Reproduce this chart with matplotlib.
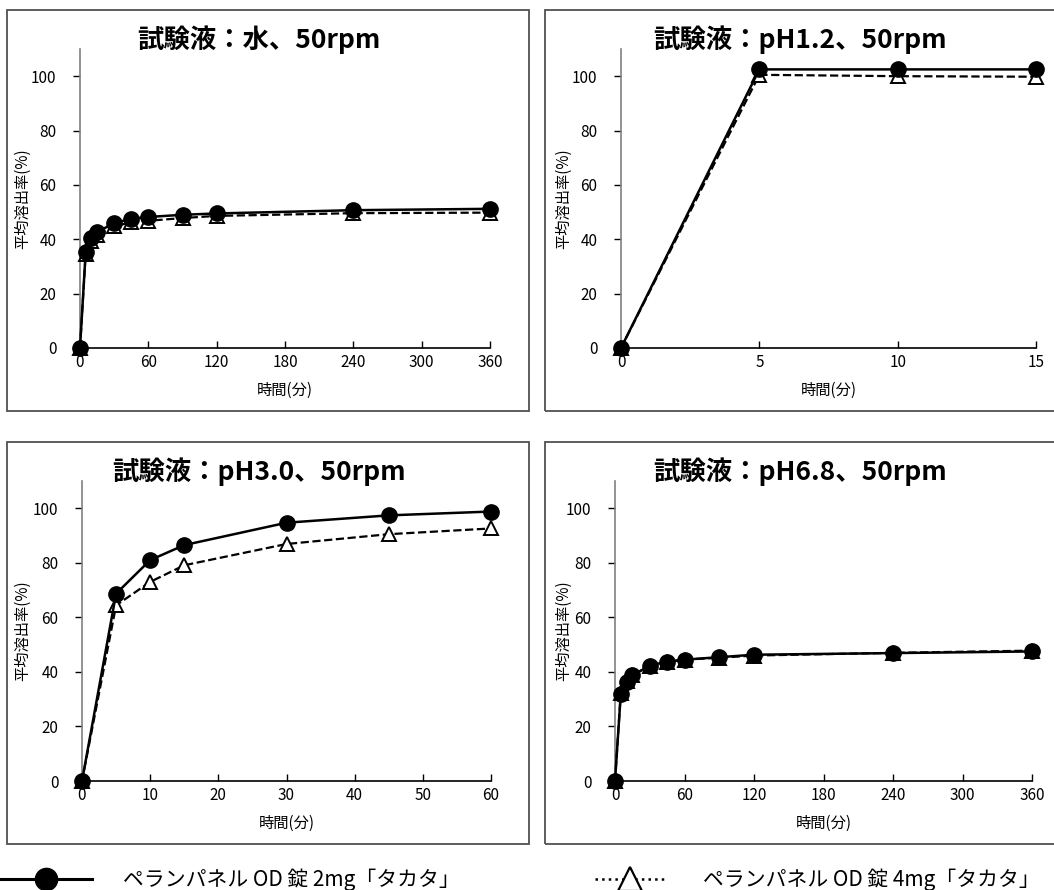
import matplotlib
matplotlib.use("Agg")
import matplotlib.pyplot as plt
from matplotlib.patches import Rectangle
from matplotlib.lines import Line2D

plt.rcParams['font.family'] = ['Noto Sans CJK JP', 'DejaVu Sans']

# ---- data ----
t_long = [0, 5, 10, 15, 30, 45, 60, 90, 120, 240, 360]
t_ph12 = [0, 5, 10, 15]
t_ph30 = [0, 5, 10, 15, 30, 45, 60]

water_2mg = [0, 35.5, 40.5, 42.7, 45.9, 47.6, 48.2, 49.0, 49.5, 50.7, 51.2]
water_4mg = [0, 34.5, 39.5, 41.5, 44.8, 46.2, 46.8, 47.8, 48.6, 49.6, 49.8]
ph12_2mg = [0, 102.5, 102.5, 102.5]
ph12_4mg = [0, 100.5, 100.0, 99.8]
ph30_2mg = [0, 68.7, 81.0, 86.5, 94.7, 97.4, 98.8]
ph30_4mg = [0, 64.4, 73.0, 79.1, 86.9, 90.5, 92.6]
ph68_2mg = [0, 31.9, 36.2, 38.7, 42.3, 43.8, 44.5, 45.4, 46.3, 46.9, 47.5]
ph68_4mg = [0, 32.2, 36.6, 39.0, 42.0, 43.5, 44.5, 45.2, 46.0, 47.0, 47.8]

titles = ['試験液：水、50rpm', '試験液：pH1.2、50rpm', '試験液：pH3.0、50rpm', '試験液：pH6.8、50rpm']
legend_2mg = 'ペランパネル OD 錠 2mg「タカタ」'
legend_4mg = 'ペランパネル OD 錠 4mg「タカタ」'

W, H = 1054, 890
fig = plt.figure(figsize=(W / 100, H / 100), dpi=100)

def fbox(x0, y0, x1, y1):
    # pixel box -> figure fraction [left, bottom, width, height]
    return [x0 / W, 1 - y1 / H, (x1 - x0) / W, (y1 - y0) / H]

# panel frames
frames = [(7, 10, 529, 411), (545, 10, 1062, 411), (7, 442, 529, 844), (545, 442, 1062, 844)]
for x0, y0, x1, y1 in frames:
    fig.patches.append(Rectangle((x0 / W, 1 - y1 / H), (x1 - x0) / W, (y1 - y0) / H,
                                 transform=fig.transFigure, fill=False,
                                 edgecolor='#505050', linewidth=1.3))

# axes pixel boxes, title centre (px), y-label right edge (px)
panels = [
    ((80, 49, 490, 348), t_long, water_2mg, water_4mg, 360, range(0, 361, 60), 259, 40, 31),
    ((621, 49, 1036, 348), t_ph12, ph12_2mg, ph12_4mg, 15, range(0, 16, 5), 800, 40, 572),
    ((82, 481, 491, 781), t_ph30, ph30_2mg, ph30_4mg, 60, range(0, 61, 10), 259, 472, 31),
    ((615, 481, 1032, 781), t_long, ph68_2mg, ph68_4mg, 360, range(0, 361, 60), 800, 472, 572),
]

for i, (px, t, y2, y4, xmax, xt, tx, ty, lx) in enumerate(panels):
    ax = fig.add_axes(fbox(*px))
    ax.plot(t, y4, color='black', linestyle='--', linewidth=1.6, marker='^',
            markersize=10, markerfacecolor='white', markeredgecolor='black',
            markeredgewidth=1.4, clip_on=False, zorder=3)
    ax.plot(t, y2, color='black', linestyle='-', linewidth=1.8, marker='o',
            markersize=11, markerfacecolor='black', markeredgecolor='black',
            clip_on=False, zorder=4)
    ax.set_xlim(0, xmax)
    ax.set_ylim(0, 110)
    ax.set_xticks(list(xt))
    ax.set_yticks(range(0, 101, 20))
    ax.spines['top'].set_visible(False)
    ax.spines['right'].set_visible(False)
    ax.spines['left'].set_color('#808080')
    ax.spines['left'].set_linewidth(1.2)
    ax.spines['bottom'].set_linewidth(1.2)
    ax.tick_params(axis='y', direction='out', length=5, width=1, labelsize=11, pad=12)
    ax.tick_params(axis='x', direction='in', length=5, width=1, labelsize=11, pad=4)
    ax.set_xlabel('時間(分)', fontsize=11, labelpad=8)
    ax.set_ylabel('平均溶出率(%)', fontsize=11)
    ax.yaxis.set_label_coords((lx - px[0]) / (px[2] - px[0]), 0.5)
    fig.text(tx / W, 1 - ty / H, titles[i], fontsize=19, fontweight='bold',
             ha='center', va='center')

# legend strip at the bottom
h2 = Line2D([], [], color='black', linestyle='-', linewidth=2.2, marker='o',
            markersize=16, markerfacecolor='black')
h4 = Line2D([], [], color='black', linestyle=':', linewidth=1.8, marker='^',
            markersize=17, markerfacecolor='white', markeredgewidth=1.6)
fig.legend(handles=[h2], labels=[legend_2mg], loc='center left',
           bbox_to_anchor=(0 / W, 1 - 880 / H), frameon=False, borderpad=0,
           borderaxespad=0, handlelength=4.4, handletextpad=1.5, fontsize=15)
fig.legend(handles=[h4], labels=[legend_4mg], loc='center left',
           bbox_to_anchor=(595 / W, 1 - 880 / H), frameon=False, borderpad=0,
           borderaxespad=0, handlelength=3.4, handletextpad=1.8, fontsize=15)

fig.savefig('out.png', dpi=100)
